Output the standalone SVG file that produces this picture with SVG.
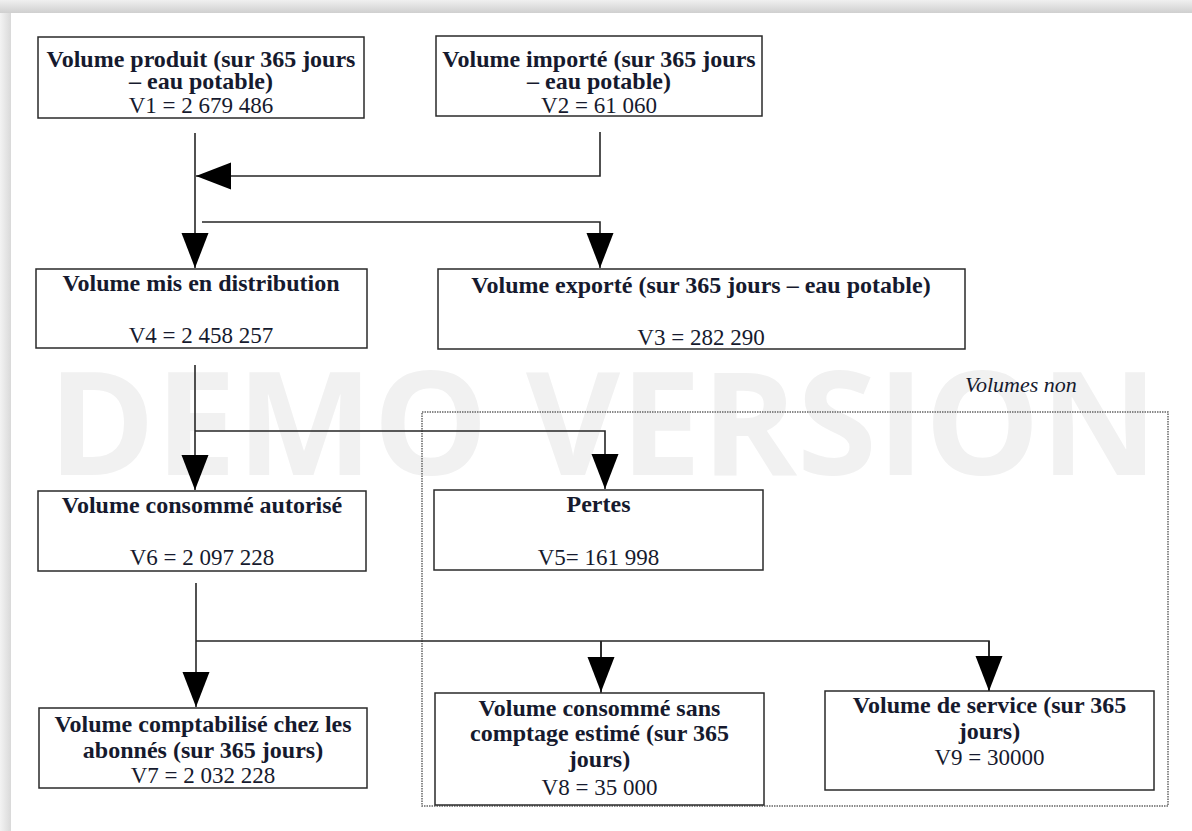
<svg xmlns="http://www.w3.org/2000/svg" width="1192" height="831" viewBox="0 0 1192 831">
<defs>
<linearGradient id="gTop" x1="0" y1="0" x2="0" y2="1">
<stop offset="0" stop-color="#f0f0f0"/>
<stop offset="1" stop-color="#cfcfcf"/>
</linearGradient>
<linearGradient id="gLeft" x1="0" y1="0" x2="1" y2="0">
<stop offset="0" stop-color="#f3f3f3"/>
<stop offset="1" stop-color="#d9d9d9"/>
</linearGradient>
<marker id="ah" viewBox="0 -14 36 28" markerUnits="userSpaceOnUse" markerWidth="36" markerHeight="28" refX="35" refY="0" orient="auto">
<path d="M0,-13.5 L35,0 L0,13.5 Z" fill="#000"/>
</marker>
<style>
.box{fill:#fff;stroke:#2a2a2a;stroke-width:1.5}
.b{font-family:"Liberation Serif",serif;font-weight:bold;font-size:24px;fill:#161a2e;text-anchor:middle}
.r{font-family:"Liberation Serif",serif;font-size:23px;fill:#161a2e;text-anchor:middle}
.con{fill:none;stroke:#262626;stroke-width:1.6;marker-end:url(#ah)}
.plain{fill:none;stroke:#262626;stroke-width:1.6}
</style>
</defs>
<rect x="0" y="0" width="1192" height="831" fill="#fff"/>
<rect x="0" y="0" width="1192" height="13" fill="url(#gTop)"/>
<rect x="0" y="13" width="11" height="818" fill="url(#gLeft)"/>
<text x="48" y="475" font-family="Open Sans, DejaVu Sans, sans-serif" font-weight="bold" font-size="144" fill="#f1f1f1" textLength="1110" lengthAdjust="spacingAndGlyphs">DEMO VERSION</text>

<g id="group-non">
<rect x="422" y="412" width="746" height="394" fill="none" stroke="#666" stroke-width="1.5" stroke-dasharray="1.5 1"/>
<text x="965" y="392" font-family="Liberation Serif, serif" font-style="italic" font-size="22" fill="#161a2e">Volumes non</text>
</g>

<g id="connectors">
<path class="con" d="M195,133 V268"/>
<path class="con" d="M600,132 V176 H196"/>
<path class="con" d="M202,222 H600 V268"/>
<path class="con" d="M195,365 V490"/>
<path class="con" d="M195,431 H605 V489"/>
<path class="con" d="M196,583 V707"/>
<path class="plain" d="M196,641 H989 V700"/>
<path class="con" d="M989,641 V691"/>
<path class="plain" d="M601,641 V700"/>
<path class="con" d="M601,641 V692"/>
</g>

<g id="v1">
<rect class="box" x="38" y="37" width="326" height="81"/>
<text class="b" x="201" y="67">Volume produit (sur 365 jours</text>
<text class="b" x="201" y="89">– eau potable)</text>
<text class="r" x="201" y="113">V1 = 2 679 486</text>
</g>
<g id="v2">
<rect class="box" x="436" y="36" width="326" height="80"/>
<text class="b" x="599" y="67">Volume importé (sur 365 jours</text>
<text class="b" x="599" y="89">– eau potable)</text>
<text class="r" x="599" y="113">V2 = 61 060</text>
</g>
<g id="v4">
<rect class="box" x="36" y="269" width="331" height="79"/>
<text class="b" x="201" y="291">Volume mis en distribution</text>
<text class="r" x="201" y="343">V4 = 2 458 257</text>
</g>
<g id="v3">
<rect class="box" x="438" y="269" width="527" height="80"/>
<text class="b" x="701" y="293">Volume exporté (sur 365 jours – eau potable)</text>
<text class="r" x="701" y="345">V3 = 282 290</text>
</g>
<g id="v6">
<rect class="box" x="38" y="491" width="328" height="80"/>
<text class="b" x="202" y="513">Volume consommé autorisé</text>
<text class="r" x="202" y="565">V6 = 2 097 228</text>
</g>
<g id="v5">
<rect class="box" x="434" y="490" width="329" height="80"/>
<text class="b" x="598.5" y="512">Pertes</text>
<text class="r" x="598.5" y="565">V5= 161 998</text>
</g>
<g id="v7">
<rect class="box" x="39" y="708" width="328" height="80"/>
<text class="b" x="203" y="732">Volume comptabilisé chez les</text>
<text class="b" x="203" y="758">abonnés (sur 365 jours)</text>
<text class="r" x="203" y="783">V7 = 2 032 228</text>
</g>
<g id="v8">
<rect class="box" x="435" y="693" width="329" height="112"/>
<text class="b" x="599.5" y="716">Volume consommé sans</text>
<text class="b" x="599.5" y="741">comptage estimé (sur 365</text>
<text class="b" x="599.5" y="767">jours)</text>
<text class="r" x="599.5" y="795">V8 = 35 000</text>
</g>
<g id="v9">
<rect class="box" x="825" y="691" width="329" height="99"/>
<text class="b" x="989.5" y="713">Volume de service (sur 365</text>
<text class="b" x="989.5" y="739">jours)</text>
<text class="r" x="989.5" y="765">V9 = 30000</text>
</g>
</svg>
